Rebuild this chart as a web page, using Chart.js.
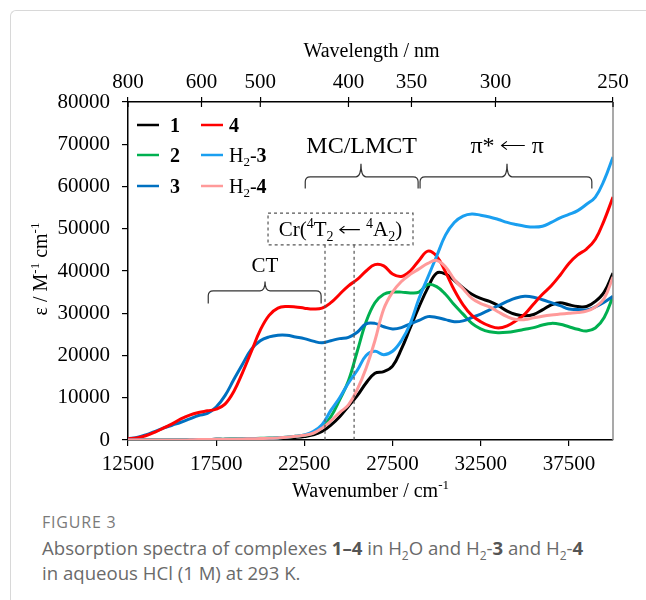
<!DOCTYPE html>
<html lang="en">
<head>
<meta charset="UTF-8">
<title>Absorption spectra</title>
<script src="https://cdn.jsdelivr.net/npm/chart.js"></script>
<style>
    html, body { margin: 0; padding: 0; background: #fff; }
    body { width: 646px; height: 600px; position: relative; overflow: hidden; }
    .frame { position: absolute; left: 10px; top: 10px; width: 660px; height: 620px;
             border-left: 1px solid #d8d8d8; border-top: 1px solid #d8d8d8; border-top-left-radius: 6px; }
    #chart { position: absolute; left: 0; top: 0; }
    .fig { position: absolute; left: 42px; top: 511px; font-family: 'Open Sans', sans-serif;
           font-size: 16px; color: #7a7a7a; letter-spacing: 0.8px; line-height: 22px; }
    .caption { position: absolute; left: 42px; top: 535px; width: 600px; font-family: 'Open Sans', sans-serif;
               font-size: 18.6px; line-height: 25px; color: #6a6a6a; margin: 0; }
    .caption b { color: #555; }
    .caption sub { font-size: 12px; line-height: 0; }
</style>
</head>
<body>
<div class="frame"></div>
<canvas id="chart" width="646" height="500"></canvas>
<div class="fig">FIGURE 3</div>
<p class="caption">Absorption spectra of complexes <b>1–4</b> in H<sub>2</sub>O and H<sub>2</sub>-<b>3</b> and H<sub>2</sub>-<b>4</b><br>in aqueous HCl (1 M) at 293 K.</p>
<script>
// wavenumber grid, cm-1
const wavenumber = [12500, 13000, 13500, 14000, 14500, 15000, 15500, 16000, 16500, 17000,
    17500, 18000, 18500, 19000, 19500, 20000, 20500, 21000, 21500, 22000,
    22500, 23000, 23500, 24000, 24500, 25000, 25500, 26000, 26500, 27000,
    27500, 28000, 28500, 29000, 29500, 30000, 30500, 31000, 31500, 32000,
    32500, 33000, 33500, 34000, 34500, 35000, 35500, 36000, 36500, 37000,
    37500, 38000, 38500, 39000, 39500, 40000];

// epsilon, M-1 cm-1
const eps1 = [0, 0, 0, 0, 0, 0, 0, 50, 100, 100,
    150, 150, 200, 200, 250, 300, 350, 400, 500, 600,
    800, 1200, 2000, 3500, 5500, 8000, 10500, 13500, 15800, 16200,
    17500, 21500, 26500, 31500, 36000, 39500, 39300, 37800, 36000, 34500,
    33500, 32800, 31800, 30500, 29700, 29400, 29700, 30800, 32000, 32500,
    32000, 31600, 31600, 32800, 35000, 39500];
const eps2 = [0, 0, 0, 0, 0, 0, 0, 50, 100, 100,
    150, 200, 250, 300, 350, 400, 450, 500, 650, 900,
    1100, 1600, 3000, 5500, 9500, 14000, 21000, 28000, 32500, 34500,
    35000, 35000, 34800, 35000, 36800, 36300, 34500, 32000, 29800, 27600,
    26300, 25600, 25400, 25500, 25800, 26200, 26600, 27200, 27600, 27400,
    26800, 26200, 25800, 26500, 29000, 34000];
const eps3 = [300, 600, 1200, 2000, 2800, 3500, 4200, 5000, 5800, 6300,
    7800, 10500, 14300, 18000, 21500, 23500, 24400, 24800, 24800, 24400,
    24000, 23400, 23000, 23500, 24000, 24300, 25500, 27500, 27600, 26800,
    26300, 26600, 27500, 28300, 29200, 29000, 28500, 28000, 28200, 29000,
    29800, 30800, 31800, 32800, 33600, 34000, 33800, 33200, 32500, 31800,
    31000, 30900, 30800, 31500, 32600, 34000];
const eps4 = [300, 500, 1000, 1800, 2800, 3800, 5000, 5900, 6500, 6900,
    7300, 8500, 11500, 16000, 21000, 26000, 29500, 31200, 31600, 31500,
    31200, 31000, 31200, 32500, 34500, 36500, 38000, 40000, 41500, 41200,
    39300, 38700, 40000, 42500, 44700, 43500, 39800, 35500, 32000, 29500,
    28000, 27000, 26500, 27000, 28200, 29800, 32200, 34500, 36500, 39000,
    41800, 43800, 45200, 47500, 52000, 57500];
const epsH3 = [0, 0, 0, 0, 0, 0, 0, 50, 100, 100,
    150, 150, 200, 250, 300, 350, 400, 500, 650, 900,
    1200, 2000, 3600, 7000, 10000, 13500, 16500, 20000, 21000, 20200,
    21000, 23500, 27500, 33500, 38500, 43500, 48500, 51500, 53000, 53500,
    53200, 52800, 52200, 51500, 51000, 50600, 50400, 50600, 51500, 52600,
    53400, 54300, 55800, 57500, 61500, 67000];
const epsH4 = [0, 0, 0, 0, 0, 0, 0, 50, 100, 100,
    150, 150, 200, 250, 300, 350, 400, 500, 650, 900,
    1100, 1600, 2800, 4500, 6500, 8300, 12000, 17000, 23500, 31000,
    35000, 37500, 39200, 40500, 41800, 42500, 41000, 38000, 35800, 33500,
    32300, 31500, 30300, 29200, 28500, 28500, 28900, 29300, 29600, 29800,
    30000, 30200, 30500, 31500, 33500, 38600];

const seriesLabels = ['1', '2', '3', '4', 'H2-3', 'H2-4'];
const seriesColors = ['#000000', '#00b050', '#0070c0', '#ff0000', '#1a9ff0', '#ff9a9a'];
const seriesValues = [eps1, eps2, eps3, eps4, epsH3, epsH4];

const xTickValues = [12500, 17500, 22500, 27500, 32500, 37500];
const wavelengthTicks = [800, 600, 500, 400, 350, 300, 250];

const SERIF = "'Liberation Serif', 'Times New Roman', serif";

// text parts: t = text, b = bold, s = 'sub' | 'sup', arrow = drawn left arrow
function partFont(p, size) {
    const sz = p.s ? Math.round(size * 0.65) : size;
    return (p.b ? 'bold ' : '') + sz + 'px ' + SERIF;
}
function partWidth(ctx, p, size) {
    if (p.arrow) return size * 1.05;
    ctx.font = partFont(p, size);
    return ctx.measureText(p.t).width;
}
function richWidth(ctx, parts, size) {
    return parts.reduce((w, p) => w + partWidth(ctx, p, size), 0);
}
function drawRich(ctx, parts, x, y, size, align) {
    const w = richWidth(ctx, parts, size);
    let cx = align === 'center' ? x - w / 2 : x;
    ctx.textAlign = 'left';
    ctx.textBaseline = 'alphabetic';
    parts.forEach(p => {
        const pw = partWidth(ctx, p, size);
        if (p.arrow) {
            const ay = y - size * 0.3;
            ctx.save();
            ctx.strokeStyle = ctx.fillStyle;
            ctx.lineWidth = 1.1;
            ctx.beginPath();
            ctx.moveTo(cx + 1, ay);
            ctx.lineTo(cx + pw - 1, ay);
            ctx.moveTo(cx + 1 + size * 0.22, ay - size * 0.17);
            ctx.lineTo(cx + 1, ay);
            ctx.lineTo(cx + 1 + size * 0.22, ay + size * 0.17);
            ctx.stroke();
            ctx.restore();
        } else {
            ctx.font = partFont(p, size);
            let dy = 0;
            if (p.s === 'sub') dy = size * 0.22;
            if (p.s === 'sup') dy = -size * 0.38;
            ctx.fillText(p.t, cx, y + dy);
        }
        cx += pw;
    });
}

function drawBrace(ctx, x1, x2, xm, yLine, yEnd, yTip) {
    const r = 5;
    ctx.beginPath();
    ctx.moveTo(x1, yEnd);
    ctx.lineTo(x1, yLine + r);
    ctx.quadraticCurveTo(x1, yLine, x1 + r, yLine);
    ctx.lineTo(xm - r, yLine);
    ctx.quadraticCurveTo(xm, yLine, xm, yTip);
    ctx.quadraticCurveTo(xm, yLine, xm + r, yLine);
    ctx.lineTo(x2 - r, yLine);
    ctx.quadraticCurveTo(x2, yLine, x2, yLine + r);
    ctx.lineTo(x2, yEnd);
    ctx.stroke();
}

const legendParts = [
    [{t: '1', b: true}],
    [{t: '2', b: true}],
    [{t: '3', b: true}],
    [{t: '4', b: true}],
    [{t: 'H'}, {t: '2', s: 'sub'}, {t: '-'}, {t: '3', b: true}],
    [{t: 'H'}, {t: '2', s: 'sub'}, {t: '-'}, {t: '4', b: true}]
];

const overlay = {
    id: 'overlay',
    afterDraw(chart) {
        const ctx = chart.ctx;
        const a = chart.chartArea;
        const xs = chart.scales.x, ys = chart.scales.y;
        const X = v => xs.getPixelForValue(v);
        const Y = v => ys.getPixelForValue(v);
        ctx.save();

        // right frame line
        ctx.strokeStyle = '#8c8c8c';
        ctx.lineWidth = 1.5;
        ctx.beginPath();
        ctx.moveTo(a.right, a.top);
        ctx.lineTo(a.right, a.bottom);
        ctx.stroke();

        // inner half of top ticks
        ctx.strokeStyle = '#000';
        ctx.lineWidth = 1.2;
        wavelengthTicks.forEach(l => {
            const px = X(1e7 / l);
            ctx.beginPath();
            ctx.moveTo(px, a.top);
            ctx.lineTo(px, a.top + 5);
            ctx.stroke();
        });

        // axis titles
        ctx.fillStyle = '#000';
        drawRich(ctx, [{t: 'Wavelength / nm'}], (a.left + a.right) / 2 + 1, 57, 20, 'center');
        drawRich(ctx, [{t: 'Wavenumber / cm'}, {t: '-1', s: 'sup'}], (a.left + a.right) / 2, 497, 20, 'center');
        ctx.save();
        ctx.translate(47, (a.top + a.bottom) / 2 - 2);
        ctx.rotate(-Math.PI / 2);
        drawRich(ctx, [{t: 'ε / M'}, {t: '-1', s: 'sup'}, {t: ' cm'}, {t: '-1', s: 'sup'}], 0, 0, 20, 'center');
        ctx.restore();

        // legend
        const rows = [23, 53, 84];
        seriesLabels.forEach((lab, i) => {
            const col = i < 3 ? 0 : 1;
            const row = i % 3;
            const lx = a.left + (col === 0 ? 9 : 73);
            const ly = a.top + rows[row];
            ctx.strokeStyle = seriesColors[i];
            ctx.lineWidth = 2.5;
            ctx.beginPath();
            ctx.moveTo(lx, ly);
            ctx.lineTo(lx + 22, ly);
            ctx.stroke();
            ctx.fillStyle = '#000';
            drawRich(ctx, legendParts[i], lx + (col === 0 ? 33 : 28), ly + 7, 20, 'left');
        });

        // annotations
        ctx.strokeStyle = '#333';
        ctx.lineWidth = 1.2;
        drawBrace(ctx, X(17050), X(23450), X(20270), Y(35300), Y(32300), Y(37500));
        drawBrace(ctx, X(22550), X(28950), X(25710), Y(62300), Y(59500), Y(65400));
        drawBrace(ctx, X(29060), X(38800), X(33990), Y(62300), Y(59500), Y(65400));
        ctx.fillStyle = '#000';
        drawRich(ctx, [{t: 'CT'}], X(20270), Y(39700), 21, 'center');
        drawRich(ctx, [{t: 'MC/LMCT'}], X(25750), Y(68000), 24, 'center');
        drawRich(ctx, [{t: 'π* '}, {arrow: true}, {t: ' π'}], X(34000), Y(68000), 24, 'center');

        // dashed Cr transition box and lines
        ctx.strokeStyle = '#555';
        ctx.lineWidth = 1.2;
        ctx.setLineDash([3, 3]);
        ctx.strokeRect(X(20440), Y(53700), X(28660) - X(20440), Y(46200) - Y(53700));
        [23670, 25320].forEach(v => {
            ctx.beginPath();
            ctx.moveTo(X(v), Y(46200));
            ctx.lineTo(X(v), a.bottom);
            ctx.stroke();
        });
        ctx.setLineDash([]);
        ctx.fillStyle = '#000';
        drawRich(ctx, [{t: 'Cr('}, {t: '4', s: 'sup'}, {t: 'T'}, {t: '2', s: 'sub'}, {t: ' '}, {arrow: true}, {t: ' '},
            {t: '4', s: 'sup'}, {t: 'A'}, {t: '2', s: 'sub'}, {t: ')'}],
            X(24550), Y(48300), 21, 'center');
        ctx.restore();
    }
};

const datasets = seriesValues.map((vals, i) => ({
    label: seriesLabels[i],
    data: wavenumber.map((w, k) => ({x: w, y: vals[k]})),
    borderColor: seriesColors[i],
    borderWidth: 3,
    pointRadius: 0,
    tension: 0.4,
    fill: false,
    order: 5 - i
}));

const tickFont = {family: SERIF, size: 21};

new Chart(document.getElementById('chart'), {
    type: 'line',
    data: {datasets},
    options: {
        responsive: false,
        animation: false,
        devicePixelRatio: 1,
        layout: {padding: {left: 0, right: 33, top: 0, bottom: 0}},
        plugins: {legend: {display: false}, tooltip: {enabled: false}},
        scales: {
            x: {
                type: 'linear', position: 'bottom', min: 12500, max: 40000,
                afterBuildTicks: s => { s.ticks = xTickValues.map(v => ({value: v})); },
                afterFit: s => { s.height = 60; },
                ticks: {font: tickFont, color: '#000', padding: 6, maxRotation: 0, autoSkip: false,
                        callback: v => String(v)},
                grid: {drawOnChartArea: false, tickLength: 6, color: '#000', lineWidth: 1.2},
                border: {color: '#000', width: 1.5}
            },
            x2: {
                type: 'linear', position: 'top', min: 12500, max: 40000,
                afterBuildTicks: s => { s.ticks = wavelengthTicks.map(l => ({value: 1e7 / l})); },
                afterFit: s => { s.height = 102; },
                ticks: {font: tickFont, color: '#000', padding: 2, maxRotation: 0, autoSkip: false,
                        callback: (v, i) => String(wavelengthTicks[i])},
                grid: {drawOnChartArea: false, tickLength: 5, color: '#000', lineWidth: 1.2},
                border: {color: '#000', width: 1.5}
            },
            y: {
                min: 0, max: 80000,
                afterFit: s => { s.width = 128; },
                ticks: {font: tickFont, color: '#000', padding: 12, stepSize: 10000,
                        callback: v => String(v)},
                grid: {drawOnChartArea: false, tickLength: 6, color: '#000', lineWidth: 1.2},
                border: {color: '#000', width: 1.5}
            }
        }
    },
    plugins: [overlay]
});
</script>
</body>
</html>
